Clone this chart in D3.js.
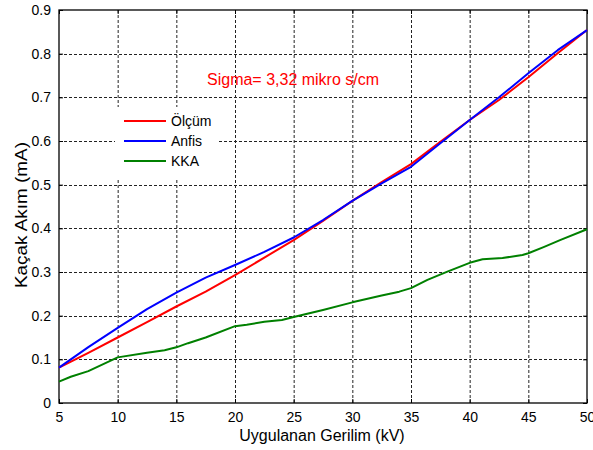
<!DOCTYPE html>
<html>
<head>
<meta charset="utf-8">
<script src="https://cdn.jsdelivr.net/npm/d3@7"></script>
<style>
  html, body { margin: 0; padding: 0; background: #fff; }
  svg { display: block; font-family: "Liberation Sans", Arial, sans-serif; }
</style>
</head>
<body>
<svg id="chart" width="593" height="450"></svg>
<script>
// ---- data ----
const voltageMain = [5, 7.5, 10, 12.5, 15, 17.5, 20, 22.5, 25, 27.5, 30, 32.5, 35, 37.5, 40, 42.5, 45, 47.5, 50];
const olcum = [0.081, 0.115, 0.150, 0.185, 0.221, 0.255, 0.293, 0.333, 0.373, 0.417, 0.463, 0.506, 0.547, 0.598, 0.648, 0.694, 0.746, 0.801, 0.854];
const anfis = [0.081, 0.128, 0.172, 0.215, 0.253, 0.287, 0.316, 0.346, 0.379, 0.419, 0.463, 0.503, 0.541, 0.595, 0.648, 0.700, 0.755, 0.808, 0.854];
const voltageKKA = [5, 6, 7.5, 10, 12.5, 14, 15, 16, 17.5, 20, 21, 22.5, 24, 25, 27.5, 30, 32.5, 34, 35, 36.4, 38.1, 40, 41.1, 42.8, 44.5, 45, 46.3, 47.7, 50];
const kka = [0.049, 0.060, 0.073, 0.1045, 0.115, 0.121, 0.1275, 0.137, 0.150, 0.176, 0.179, 0.186, 0.190, 0.197, 0.213, 0.2305, 0.246, 0.255, 0.263, 0.282, 0.301, 0.321, 0.329, 0.332, 0.339, 0.343, 0.357, 0.373, 0.398];
const xTicks = [5, 10, 15, 20, 25, 30, 35, 40, 45, 50];
const yTicks = [0, 0.1, 0.2, 0.3, 0.4, 0.5, 0.6, 0.7, 0.8, 0.9];
const seriesNames = ["Ölçüm", "Anfis", "KKA"];
const seriesColors = ["#ff0000", "#0000ff", "#008000"];
const titleText = "Sigma= 3,32 mikro s/cm";
const xLabel = "Uygulanan Gerilim (kV)";
const yLabel = "Kaçak Akım (mA)";

// ---- layout ----
const L = 59, R = 587, T = 10, B = 403;
const svg = d3.select("#chart");
const x = d3.scaleLinear().domain([5, 50]).range([L, R]);
const y = d3.scaleLinear().domain([0, 0.9]).range([B, T]);

// grid
const grid = svg.append("g");
grid.selectAll("line.gx").data(xTicks.slice(1, -1)).join("line")
  .attr("x1", d => x(d) + 0.5).attr("x2", d => x(d) + 0.5)
  .attr("y1", T).attr("y2", B)
  .attr("stroke", "#222").attr("stroke-width", 1).attr("stroke-dasharray", "3,2");
grid.selectAll("line.gy").data(yTicks.slice(1, -1)).join("line")
  .attr("y1", d => Math.round(y(d)) + 0.5).attr("y2", d => Math.round(y(d)) + 0.5)
  .attr("x1", L).attr("x2", R)
  .attr("stroke", "#222").attr("stroke-width", 1).attr("stroke-dasharray", "3,2");

// axes (ticks inside)
const fmtY = d => d === 0 ? "0" : d3.format(".1f")(d);
const xAxis = svg.append("g").attr("transform", `translate(0,${B})`)
  .call(d3.axisBottom(x).tickValues(xTicks).tickSize(-4).tickPadding(9).tickFormat(d3.format("d")));
const xAxisTop = svg.append("g").attr("transform", `translate(0,${T})`)
  .call(d3.axisTop(x).tickValues(xTicks).tickSize(-4).tickFormat(""));
const yAxis = svg.append("g").attr("transform", `translate(${L},0)`)
  .call(d3.axisLeft(y).tickValues(yTicks).tickSize(-4).tickPadding(8).tickFormat(fmtY));
const yAxisR = svg.append("g").attr("transform", `translate(${R},0)`)
  .call(d3.axisRight(y).tickValues(yTicks).tickSize(-4).tickFormat(""));
[xAxis, xAxisTop, yAxis, yAxisR].forEach(g => {
  g.select(".domain").remove();
  g.selectAll(".tick line").attr("stroke", "#000");
  g.selectAll(".tick text").attr("fill", "#000").style("font-size", "14px")
    .style("font-family", "'Liberation Sans', Arial, sans-serif");
});

// box
svg.append("rect").attr("x", L).attr("y", T).attr("width", R - L).attr("height", B - T)
  .attr("fill", "none").attr("stroke", "#000").attr("stroke-width", 1.3);

// lines
const line = d3.line().x(d => x(d[0])).y(d => y(d[1]));
const seriesData = [
  d3.zip(voltageMain, olcum),
  d3.zip(voltageMain, anfis),
  d3.zip(voltageKKA, kka)
];
seriesData.forEach((data, i) => {
  svg.append("path").datum(data).attr("d", line)
    .attr("fill", "none").attr("stroke", seriesColors[i])
    .attr("stroke-width", 2).attr("stroke-linejoin", "round");
});

// legend
svg.append("rect").attr("x", 115).attr("y", 107).attr("width", 104).attr("height", 71).attr("fill", "#fff");
seriesNames.forEach((name, i) => {
  const ly = 121 + i * 20;
  svg.append("line").attr("x1", 124).attr("x2", 166).attr("y1", ly).attr("y2", ly)
    .attr("stroke", seriesColors[i]).attr("stroke-width", 2);
  svg.append("text").attr("x", 171).attr("y", ly + 5).text(name)
    .style("font-size", "14px").attr("fill", "#000");
});

// title annotation
svg.append("text").attr("x", 207).attr("y", 85).text(titleText)
  .attr("fill", "#ff0000").style("font-size", "16px");

// axis labels
svg.append("text").attr("x", (L + R) / 2 - 1).attr("y", 441).attr("text-anchor", "middle")
  .text(xLabel).style("font-size", "16px").attr("fill", "#000");
svg.append("text").attr("transform", "translate(27,215) rotate(-90)").attr("text-anchor", "middle")
  .attr("textLength", 146).attr("lengthAdjust", "spacingAndGlyphs")
  .text(yLabel).style("font-size", "16px").attr("fill", "#000");
</script>
</body>
</html>
